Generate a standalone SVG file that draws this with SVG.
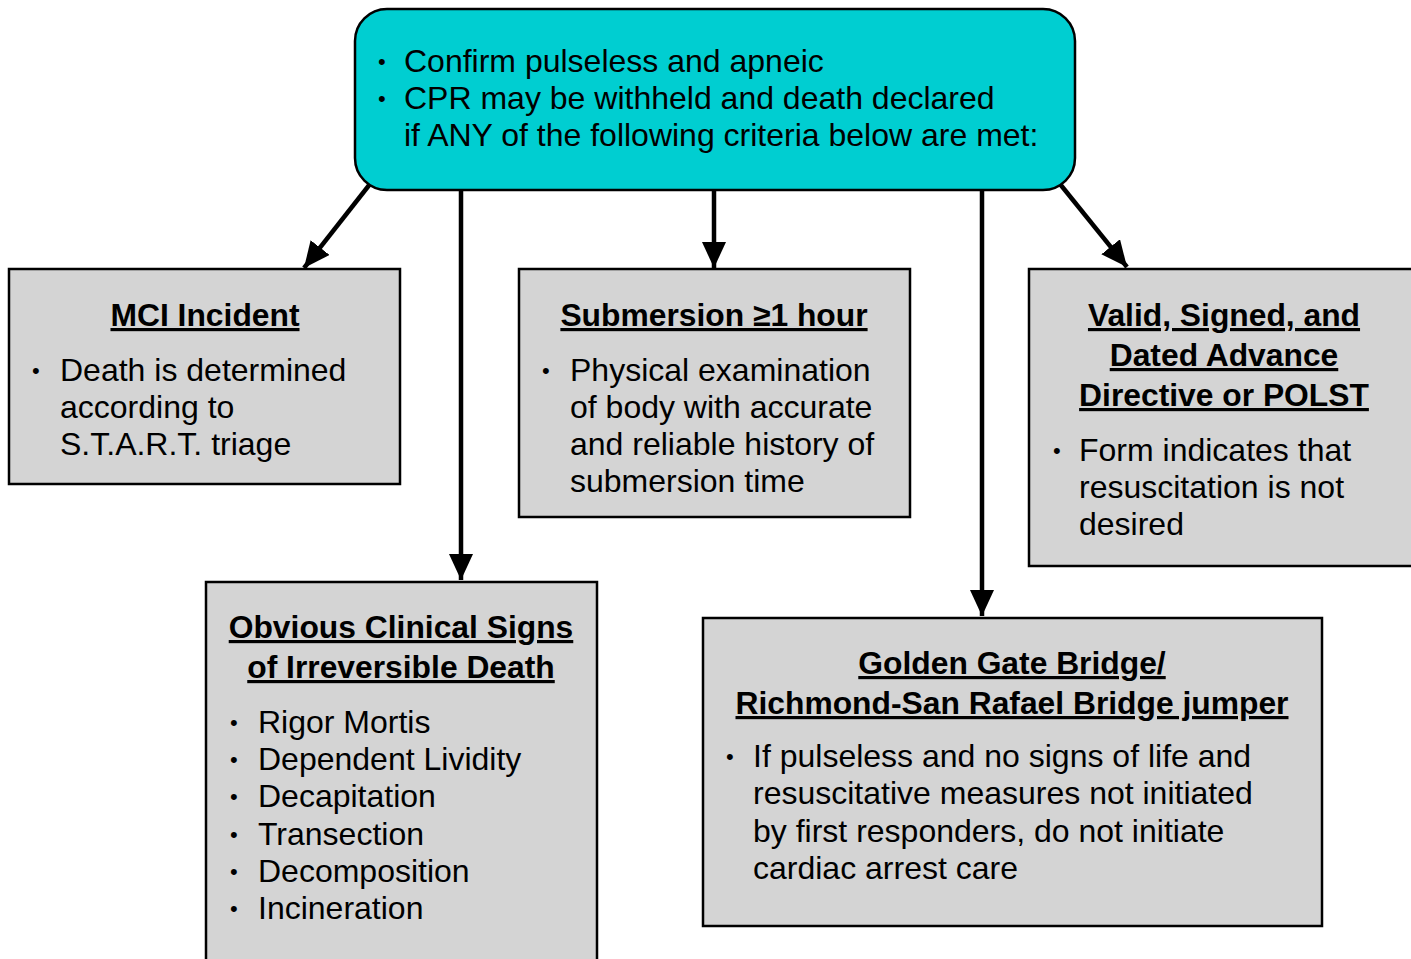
<svg xmlns="http://www.w3.org/2000/svg" width="1411" height="959" viewBox="0 0 1411 959">
<style>
text{font-family:"Liberation Sans",Arial,sans-serif;fill:#000}
.t{font-size:32px}
.b{font-size:32px}
.h{font-size:31.8px;font-weight:bold;text-decoration:underline;text-anchor:middle}
.dot{font-size:22px}
.box{fill:#d4d4d4;stroke:#000;stroke-width:2.5}
.c{stroke:#000;stroke-width:4.5;fill:none;marker-end:url(#ah)}
</style>
<defs>
<marker id="ah" markerUnits="userSpaceOnUse" markerWidth="28" markerHeight="26" refX="26" refY="12" orient="auto" viewBox="0 0 28 26">
<path d="M0,0 L26,12 L0,24 z" fill="#000"/>
</marker>
</defs>
<g id="connectors">
<line class="c" x1="370" y1="184" x2="304" y2="268"/>
<line class="c" x1="461" y1="190" x2="461" y2="580"/>
<line class="c" x1="714" y1="190" x2="714" y2="268"/>
<line class="c" x1="982" y1="190" x2="982" y2="616"/>
<line class="c" x1="1060" y1="184" x2="1127" y2="267"/>
</g>
<g id="top">
<rect x="355" y="9" width="720" height="181" rx="32" fill="#00ced1" stroke="#000" stroke-width="2.5"/>
<text class="dot" x="378" y="69">•</text>
<text class="t" x="404" y="72">Confirm pulseless and apneic</text>
<text class="dot" x="378" y="106">•</text>
<text class="t" x="404" y="109">CPR may be withheld and death declared</text>
<text class="t" x="404" y="146">if ANY of the following criteria below are met:</text>
</g>
<g id="mci">
<rect class="box" x="9" y="269" width="391" height="215"/>
<text class="h" x="205" y="326">MCI Incident</text>
<text class="dot" x="32" y="378">•</text>
<text class="b" x="60" y="381">Death is determined</text>
<text class="b" x="60" y="418">according to</text>
<text class="b" x="60" y="455">S.T.A.R.T. triage</text>
</g>
<g id="submersion">
<rect class="box" x="519" y="269" width="391" height="248"/>
<text class="h" x="714" y="326">Submersion ≥1 hour</text>
<text class="dot" x="542" y="378">•</text>
<text class="b" x="570" y="381">Physical examination</text>
<text class="b" x="570" y="418">of body with accurate</text>
<text class="b" x="570" y="455">and reliable history of</text>
<text class="b" x="570" y="492">submersion time</text>
</g>
<g id="directive">
<rect class="box" x="1029" y="269" width="392" height="297"/>
<text class="h" x="1224" y="326">Valid, Signed, and</text>
<text class="h" x="1224" y="366">Dated Advance</text>
<text class="h" x="1224" y="406">Directive or POLST</text>
<text class="dot" x="1053" y="458">•</text>
<text class="b" x="1079" y="461">Form indicates that</text>
<text class="b" x="1079" y="498">resuscitation is not</text>
<text class="b" x="1079" y="535">desired</text>
</g>
<g id="obvious">
<rect class="box" x="206" y="582" width="391" height="400"/>
<text class="h" x="401" y="638">Obvious Clinical Signs</text>
<text class="h" x="401" y="678">of Irreversible Death</text>
<text class="dot" x="230" y="730">•</text>
<text class="b" x="258" y="733">Rigor Mortis</text>
<text class="dot" x="230" y="767">•</text>
<text class="b" x="258" y="770">Dependent Lividity</text>
<text class="dot" x="230" y="804">•</text>
<text class="b" x="258" y="807">Decapitation</text>
<text class="dot" x="230" y="842">•</text>
<text class="b" x="258" y="845">Transection</text>
<text class="dot" x="230" y="879">•</text>
<text class="b" x="258" y="882">Decomposition</text>
<text class="dot" x="230" y="916">•</text>
<text class="b" x="258" y="919">Incineration</text>
</g>
<g id="bridge">
<rect class="box" x="703" y="618" width="619" height="308"/>
<text class="h" x="1012" y="674">Golden Gate Bridge/</text>
<text class="h" x="1012" y="714">Richmond-San Rafael Bridge jumper</text>
<text class="dot" x="726" y="764">•</text>
<text class="b" x="753" y="767">If pulseless and no signs of life and</text>
<text class="b" x="753" y="804">resuscitative measures not initiated</text>
<text class="b" x="753" y="842">by first responders, do not initiate</text>
<text class="b" x="753" y="879">cardiac arrest care</text>
</g>
</svg>
